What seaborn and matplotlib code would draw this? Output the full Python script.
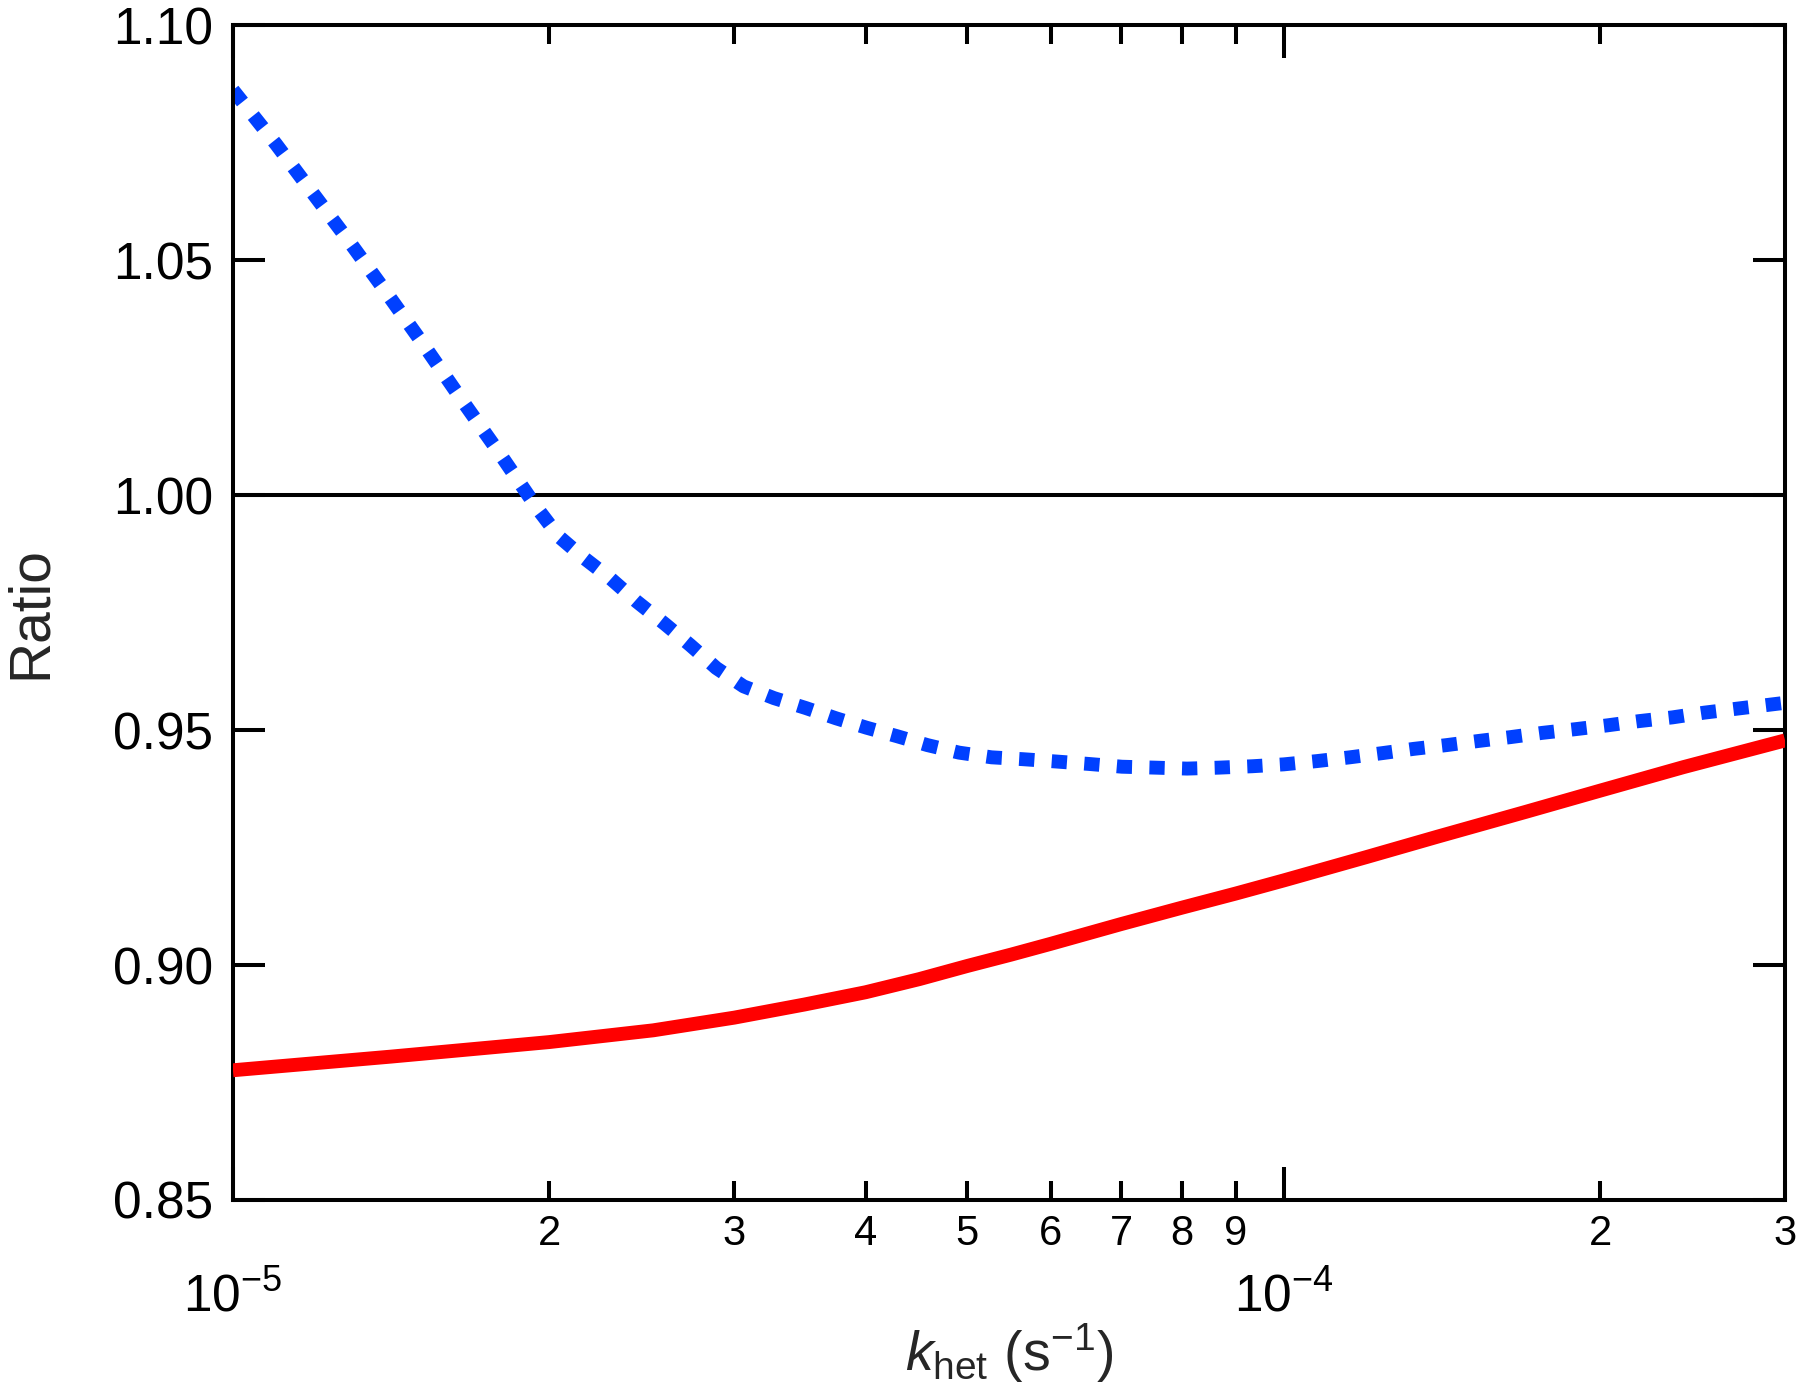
import numpy as np
import pandas as pd
import matplotlib
matplotlib.use("Agg")
import matplotlib.pyplot as plt
import matplotlib.ticker as mticker
import seaborn as sns

# values (k_het in s^-1, ratio)
k_blue = [1.000e-5, 1.099e-5, 1.191e-5, 1.291e-5, 1.403e-5, 1.521e-5, 1.652e-5,
          1.795e-5, 1.945e-5, 2.042e-5, 2.153e-5, 2.286e-5, 2.421e-5, 2.576e-5,
          2.723e-5, 2.884e-5, 3.062e-5, 3.273e-5, 3.508e-5, 3.750e-5, 4.009e-5,
          4.285e-5, 4.581e-5, 4.909e-5, 5.272e-5, 5.649e-5, 6.081e-5, 6.516e-5,
          7.015e-5, 7.551e-5, 8.091e-5, 8.670e-5, 9.333e-5, 1.000e-4, 1.076e-4,
          1.156e-4, 1.242e-4, 1.330e-4, 1.429e-4, 1.535e-4, 1.644e-4, 1.762e-4,
          1.897e-4, 2.032e-4, 2.178e-4, 2.344e-4, 2.512e-4, 3.000e-4]
ratio_blue = [1.0862, 1.0747, 1.0643, 1.0539, 1.0428, 1.0318, 1.0202,
              1.0088, 0.9974, 0.9912, 0.9868, 0.9823, 0.9774, 0.9726,
              0.9681, 0.9632, 0.9593, 0.9568, 0.9547, 0.9525, 0.9505,
              0.9487, 0.9468, 0.9452, 0.9442, 0.9438, 0.9433, 0.9428,
              0.9422, 0.9420, 0.9418, 0.9420, 0.9423, 0.9427, 0.9434,
              0.9442, 0.9451, 0.9460, 0.9468, 0.9477, 0.9485, 0.9494,
              0.9502, 0.9510, 0.9519, 0.9527, 0.9537, 0.9558]

k_red = [1.000e-5, 1.413e-5, 2.000e-5, 2.512e-5, 3.000e-5, 3.500e-5, 4.000e-5,
         4.500e-5, 5.000e-5, 5.500e-5, 6.000e-5, 7.000e-5, 8.000e-5, 9.000e-5,
         1.000e-4, 1.200e-4, 1.400e-4, 1.700e-4, 2.000e-4, 2.400e-4, 3.000e-4]
ratio_red = [0.8776, 0.8805, 0.8836, 0.8861, 0.8888, 0.8916, 0.8942,
             0.8970, 0.8998, 0.9022, 0.9045, 0.9087, 0.9122, 0.9152,
             0.9180, 0.9230, 0.9273, 0.9326, 0.9371, 0.9421, 0.9478]

blue = pd.DataFrame({"k": k_blue, "ratio": ratio_blue})
red = pd.DataFrame({"k": k_red, "ratio": ratio_red})

sns.set_theme(style="ticks")
plt.rcParams["font.family"] = ["Liberation Sans", "DejaVu Sans"]
plt.rcParams["mathtext.fontset"] = "custom"
plt.rcParams["mathtext.rm"] = "Liberation Sans"
plt.rcParams["mathtext.it"] = "Liberation Sans:italic"
plt.rcParams["mathtext.bf"] = "Liberation Sans:bold"

fig = plt.figure(figsize=(18, 13.94), dpi=100)
ax = fig.add_axes([0.1294, 0.1392, 0.8623, 0.8427])

ax.axhline(1.0, color="black", lw=2.9, zorder=1)
sns.lineplot(data=red, x="k", y="ratio", ax=ax, color="#ff0000", lw=10,
             solid_capstyle="butt", solid_joinstyle="round", zorder=3)
sns.lineplot(data=blue, x="k", y="ratio", ax=ax, color="#0040ff", lw=10,
             linestyle=(0, (1.1, 1.25)), dash_capstyle="butt", zorder=2)

ax.set_xscale("log")
ax.set_xlim(1e-5, 3e-4)
ax.set_ylim(0.85, 1.10)
ax.set_yticks(np.arange(0.85, 1.101, 0.05))
ax.yaxis.set_major_formatter(mticker.FormatStrFormatter("%.2f"))

ax.xaxis.set_major_locator(mticker.LogLocator(base=10))
ax.xaxis.set_major_formatter(mticker.LogFormatterSciNotation())
ax.xaxis.set_minor_locator(mticker.LogLocator(base=10, subs=range(2, 10)))


def lead_digit(x, pos):
    return str(int(round(x / 10 ** np.floor(np.log10(x) + 1e-9))))


ax.xaxis.set_minor_formatter(mticker.FuncFormatter(lead_digit))

ax.tick_params(axis="both", which="both", direction="in", top=True, right=True,
               color="black", labelcolor="black")
ax.tick_params(axis="x", which="major", length=24, width=2.9, labelsize=37, pad=52)
ax.tick_params(axis="x", which="minor", length=14, width=2.9, labelsize=30, pad=10)
ax.tick_params(axis="y", which="major", length=23, width=2.9, labelsize=37, pad=14)
ax.tick_params(axis="y", which="minor", left=False, right=False)

for side in ax.spines.values():
    side.set_linewidth(2.9)
    side.set_color("black")

ax.set_xlabel(r"$k_{\mathrm{het}}$ (s$^{-1}$)", fontsize=40)
ax.xaxis.set_label_coords(0.5, -0.103)
ax.set_ylabel("Ratio", fontsize=41)
ax.yaxis.set_label_coords(-0.113, 0.5)

fig.savefig("out.png", dpi=100, facecolor="white")
